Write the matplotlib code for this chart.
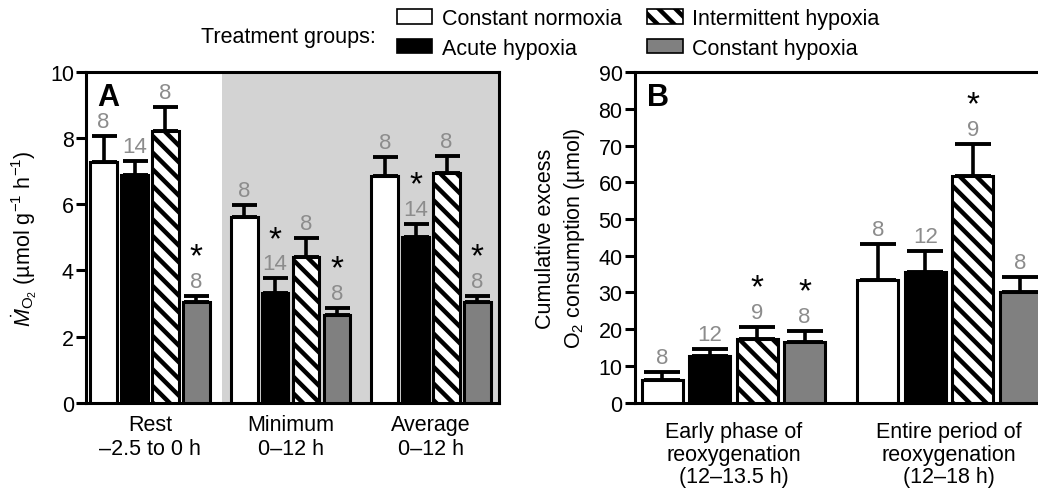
import matplotlib
matplotlib.use("Agg")
import numpy as np
import matplotlib.pyplot as plt
from matplotlib.patches import Patch

plt.rcParams["font.family"] = ["Liberation Sans", "DejaVu Sans"]
plt.rcParams["mathtext.fontset"] = "custom"
plt.rcParams["mathtext.rm"] = "Liberation Sans"
plt.rcParams["mathtext.it"] = "Liberation Sans:italic"
plt.rcParams["hatch.linewidth"] = 3.2

TREATMENTS = ["Constant normoxia", "Acute hypoxia", "Intermittent hypoxia", "Constant hypoxia"]

# Panel A: MO2 (mean, SEM, n) per treatment, for Rest / Minimum / Average
A_GROUPS = ["Rest\n\u20132.5 to 0 h", "Minimum\n0\u201312 h", "Average\n0\u201312 h"]
a_mean_normoxia = [7.30, 5.63, 6.87]
a_mean_acute = [6.89, 3.32, 5.00]
a_mean_intermittent = [8.24, 4.42, 6.95]
a_mean_constant = [3.04, 2.66, 3.05]
a_sem_normoxia = [0.78, 0.35, 0.56]
a_sem_acute = [0.42, 0.44, 0.41]
a_sem_intermittent = [0.72, 0.56, 0.53]
a_sem_constant = [0.20, 0.20, 0.19]
a_n_normoxia = [8, 8, 8]
a_n_acute = [14, 14, 14]
a_n_intermittent = [8, 8, 8]
a_n_constant = [8, 8, 8]
a_sig_normoxia = [False, False, False]
a_sig_acute = [False, True, True]
a_sig_intermittent = [False, False, False]
a_sig_constant = [True, True, True]

# Panel B: cumulative excess O2 consumption
B_GROUPS = ["Early phase of\nreoxygenation\n(12\u201313.5 h)",
            "Entire period of\nreoxygenation\n(12\u201318 h)"]
b_mean_normoxia = [6.1, 33.5]
b_mean_acute = [12.7, 35.5]
b_mean_intermittent = [17.3, 61.9]
b_mean_constant = [16.5, 30.0]
b_sem_normoxia = [2.1, 9.7]
b_sem_acute = [2.0, 5.9]
b_sem_intermittent = [3.3, 8.7]
b_sem_constant = [3.0, 4.3]
b_n_normoxia = [8, 8]
b_n_acute = [12, 12]
b_n_intermittent = [9, 9]
b_n_constant = [8, 8]
b_sig_normoxia = [False, False]
b_sig_acute = [False, False]
b_sig_intermittent = [True, True]
b_sig_constant = [True, False]

STYLES = [
    dict(color="white", hatch=None),
    dict(color="black", hatch=None),
    dict(color="white", hatch="\\\\"),
    dict(color="#808080", hatch=None),
]
N_COLOR = "#8c8c8c"
LW = 2.2
FS = 15.5
OFFSETS = [-0.33, -0.11, 0.11, 0.33]
WIDTH = 0.19


def draw_panel(ax, means, sems, ns, sigs, capsize):
    for k in range(4):
        x = np.arange(len(means[k])) + OFFSETS[k]
        ax.bar(x, means[k], width=WIDTH, color=STYLES[k]["color"], hatch=STYLES[k]["hatch"],
               edgecolor="black", linewidth=LW, zorder=3)
        ax.errorbar(x, means[k], yerr=[np.zeros(len(means[k])), sems[k]], fmt="none",
                    ecolor="black", elinewidth=LW + 0.4, capsize=capsize, capthick=LW + 0.6, zorder=2)
        for xi, m, s, n, sig in zip(x, means[k], sems[k], ns[k], sigs[k]):
            top = m + s
            ax.annotate(str(n), (xi, top), xytext=(0, 6.5), textcoords="offset points",
                        ha="center", va="baseline", fontsize=16, color=N_COLOR)
            if sig:
                ax.annotate("*", (xi, top), xytext=(0, 22), textcoords="offset points",
                            ha="center", va="baseline", fontsize=24, color="black")


fig = plt.figure(figsize=(10.38, 4.89), dpi=100)
ax_a = fig.add_axes([0.0833, 0.1748, 0.397, 0.675])
ax_b = fig.add_axes([0.6118, 0.1748, 0.392, 0.675])

draw_panel(ax_a,
           [a_mean_normoxia, a_mean_acute, a_mean_intermittent, a_mean_constant],
           [a_sem_normoxia, a_sem_acute, a_sem_intermittent, a_sem_constant],
           [a_n_normoxia, a_n_acute, a_n_intermittent, a_n_constant],
           [a_sig_normoxia, a_sig_acute, a_sig_intermittent, a_sig_constant], capsize=9)
draw_panel(ax_b,
           [b_mean_normoxia, b_mean_acute, b_mean_intermittent, b_mean_constant],
           [b_sem_normoxia, b_sem_acute, b_sem_intermittent, b_sem_constant],
           [b_n_normoxia, b_n_acute, b_n_intermittent, b_n_constant],
           [b_sig_normoxia, b_sig_acute, b_sig_intermittent, b_sig_constant], capsize=13)

# reoxygenation period shaded in panel A
ax_a.axvspan(0.51, 2.6, color="#d3d3d3", lw=0, zorder=0)

ax_a.set_xlim(-0.452, 2.48)
ax_a.set_ylim(0, 10)
ax_a.set_yticks(range(0, 11, 2))
ax_a.set_xticks(range(len(A_GROUPS)))
ax_a.set_xticklabels(A_GROUPS, linespacing=1.2)
ax_a.set_ylabel(r"$\dot{M}_{\mathrm{O_2}}$ (µmol g$^{-1}$ h$^{-1}$)", fontsize=FS, labelpad=8)

ax_b.set_xlim(-0.456, 1.43)
ax_b.set_ylim(0, 90)
ax_b.set_yticks(range(0, 91, 10))
ax_b.set_xticks(range(len(B_GROUPS)))
ax_b.set_xticklabels(B_GROUPS, linespacing=1.08)
ax_b.set_ylabel("Cumulative excess\nO$_2$ consumption (µmol)", fontsize=FS, labelpad=8,
                linespacing=1.35)

for ax in (ax_a, ax_b):
    for side in ax.spines.values():
        side.set_linewidth(LW)
    ax.tick_params(axis="y", length=7, width=LW, labelsize=FS, pad=2)
ax_a.tick_params(axis="x", length=0, labelsize=FS, pad=8)
ax_b.tick_params(axis="x", length=0, labelsize=FS, pad=13.5)
ax_b.spines["right"].set_visible(False)

ax_a.text(0.025, 0.97, "A", transform=ax_a.transAxes, fontsize=22, fontweight="bold", va="top")
ax_b.text(0.03, 0.97, "B", transform=ax_b.transAxes, fontsize=22, fontweight="bold", va="top")

# legend across the top
fig.text(376 / 1038, 1 - 37 / 489, "Treatment groups:", ha="right", va="center", fontsize=FS)
handles = [Patch(facecolor=s["color"], hatch=s["hatch"], edgecolor="black", linewidth=1.2)
           for s in STYLES]
fig.legend(handles, TREATMENTS, ncol=2, loc="upper left", bbox_to_anchor=(397 / 1038, 1 - 9 / 489),
           frameon=False, fontsize=FS, handlelength=1.63, handleheight=0.65,
           handletextpad=0.45, columnspacing=1.2, labelspacing=0.4, borderaxespad=0, borderpad=0)

fig.savefig("out.png", dpi=100)
